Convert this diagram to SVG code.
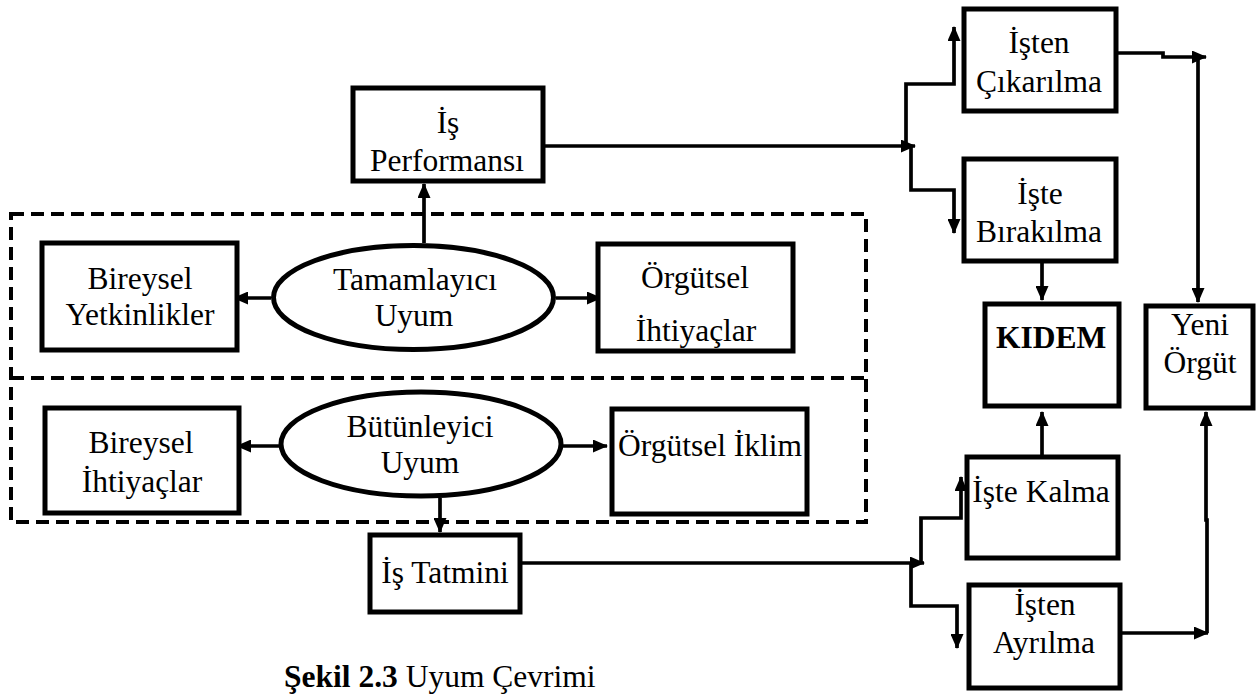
<svg xmlns="http://www.w3.org/2000/svg" width="1258" height="696" viewBox="0 0 1258 696">
  <style>
    .box { fill: #fff; stroke: #000; stroke-width: 5; }
    .ell { fill: #fff; stroke: #000; stroke-width: 5; }
    .dash { fill: none; stroke: #000; stroke-width: 4; stroke-dasharray: 13 7; }
    .arr { fill: none; stroke: #000; stroke-width: 3.7; marker-end: url(#head); }
    text { font-family: "Liberation Serif", "Times New Roman", serif; font-size: 31.5px; fill: #000; text-anchor: middle; }
    .bold { font-weight: bold; }
  </style>
  <defs>
    <marker id="head" markerUnits="userSpaceOnUse" markerWidth="15" markerHeight="13" refX="14" refY="6.5" orient="auto">
      <path d="M0,0 L15,6.5 L0,13 z" fill="#000"/>
    </marker>
  </defs>

  <!-- dashed frames around the two fit types -->
  <g id="frames">
    <rect class="dash" x="11" y="214" width="855" height="308"/>
    <line class="dash" x1="11" y1="378" x2="866" y2="378"/>
  </g>

  <!-- connectors -->
  <g id="connectors">
    <line class="arr" x1="424" y1="243" x2="424" y2="184"/>
    <line class="arr" x1="271" y1="298" x2="234" y2="298"/>
    <line class="arr" x1="556" y1="298" x2="601" y2="298"/>
    <line class="arr" x1="279" y1="446" x2="237" y2="446"/>
    <line class="arr" x1="563" y1="446" x2="607" y2="446"/>
    <line class="arr" x1="440" y1="498" x2="440" y2="532"/>

    <line class="arr" x1="545" y1="146" x2="915" y2="146"/>
    <polyline class="arr" points="906,146 906,84 954,84 954,27"/>
    <polyline class="arr" points="911,146 911,190 954,190 954,233"/>

    <line class="arr" x1="522" y1="563" x2="924" y2="563"/>
    <polyline class="arr" points="921,563 921,518 961,518 961,477"/>
    <polyline class="arr" points="911,563 911,606 957,606 957,648"/>

    <line class="arr" x1="1042" y1="263" x2="1042" y2="300"/>
    <line class="arr" x1="1042" y1="455" x2="1042" y2="412"/>

    <polyline class="arr" points="1118,53 1163,53 1163,57 1206,57"/>
    <line class="arr" x1="1198" y1="57" x2="1198" y2="302"/>
    <line class="arr" x1="1122" y1="633" x2="1208" y2="633"/>
    <polyline class="arr" points="1207,633 1207,520 1206,520 1206,412"/>
  </g>

  <g id="is-performansi">
    <rect class="box" x="353" y="88" width="190" height="93"/>
    <text x="448" y="133">İş</text>
    <text x="447" y="171">Performansı</text>
  </g>

  <g id="bireysel-yetkinlikler">
    <rect class="box" x="42" y="243" width="195" height="107"/>
    <text x="140" y="289">Bireysel</text>
    <text x="140" y="325">Yetkinlikler</text>
  </g>

  <g id="tamamlayici-uyum">
    <ellipse class="ell" cx="413.5" cy="297.5" rx="140" ry="52"/>
    <text x="415" y="290">Tamamlayıcı</text>
    <text x="414" y="326">Uyum</text>
  </g>

  <g id="orgutsel-ihtiyaclar">
    <rect class="box" x="598" y="244" width="195" height="107"/>
    <text x="695" y="288">Örgütsel</text>
    <text x="696" y="341">İhtiyaçlar</text>
  </g>

  <g id="bireysel-ihtiyaclar">
    <rect class="box" x="45" y="408" width="194" height="105"/>
    <text x="141" y="453">Bireysel</text>
    <text x="142" y="492">İhtiyaçlar</text>
  </g>

  <g id="butunleyici-uyum">
    <ellipse class="ell" cx="421" cy="444" rx="140" ry="52"/>
    <text x="420" y="437">Bütünleyici</text>
    <text x="420" y="473">Uyum</text>
  </g>

  <g id="orgutsel-iklim">
    <rect class="box" x="612" y="409" width="195" height="105"/>
    <text x="710" y="456">Örgütsel İklim</text>
  </g>

  <g id="is-tatmini">
    <rect class="box" x="370" y="535" width="150" height="77"/>
    <text x="445" y="583">İş Tatmini</text>
  </g>

  <g id="isten-cikarilma">
    <rect class="box" x="964" y="9" width="152" height="102"/>
    <text x="1039" y="53">İşten</text>
    <text x="1039" y="92">Çıkarılma</text>
  </g>

  <g id="iste-birakilma">
    <rect class="box" x="964" y="159" width="152" height="102"/>
    <text x="1040" y="204">İşte</text>
    <text x="1039" y="242">Bırakılma</text>
  </g>

  <g id="kidem">
    <rect class="box" x="985" y="304" width="134" height="102"/>
    <text class="bold" x="1051" y="348">KIDEM</text>
  </g>

  <g id="yeni-orgut">
    <rect class="box" x="1146" y="306" width="107" height="102"/>
    <text x="1200" y="335">Yeni</text>
    <text x="1200" y="373">Örgüt</text>
  </g>

  <g id="iste-kalma">
    <rect class="box" x="967" y="457" width="151" height="101"/>
    <text x="1041" y="502">İşte Kalma</text>
  </g>

  <g id="isten-ayrilma">
    <rect class="box" x="969" y="585" width="151" height="103"/>
    <text x="1045" y="615">İşten</text>
    <text x="1044" y="653">Ayrılma</text>
  </g>

  <g id="caption">
    <text x="284" y="687" style="text-anchor:start"><tspan class="bold">Şekil 2.3</tspan> Uyum Çevrimi</text>
  </g>
</svg>
